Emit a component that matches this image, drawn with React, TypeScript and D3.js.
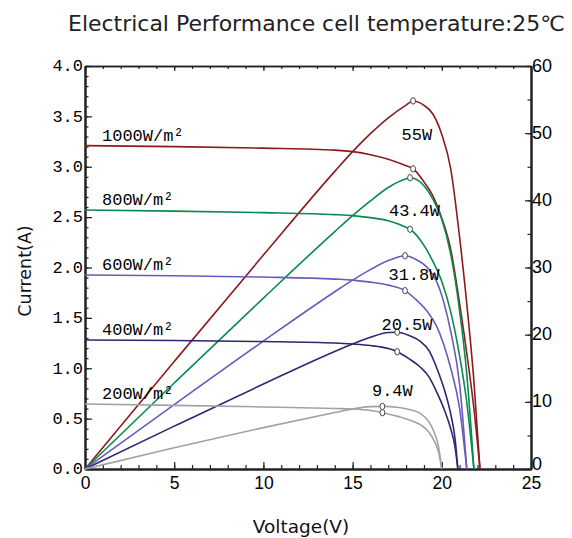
import React, { useRef, useEffect } from "react";
import * as d3 from "d3";

// irradiance levels and the max power figures printed next to each curve
const irradiance = ["1000W/m²", "800W/m²", "600W/m²", "400W/m²", "200W/m²"];
const maxPowerLabels = ["55W", "43.4W", "31.8W", "20.5W", "9.4W"];

// I-V and P-V samples (V, A, W)
const voltage1000 = [0, 5, 10, 14, 15, 16, 17, 18, 18.39, 19, 19.5, 20, 20.5, 21, 21.5, 21.8, 22.14];
const current1000 = [3.21, 3.2, 3.185, 3.165, 3.15, 3.12, 3.075, 3.01, 2.98, 2.85, 2.71, 2.49, 2.18, 1.64, 1.02, 0.6, 0];
const power1000 = [0, 16.0, 31.85, 44.31, 47.25, 49.92, 52.28, 54.18, 54.8, 54.15, 52.85, 49.8, 44.69, 34.44, 21.93, 13.08, 0];

const voltage800 = [0, 5, 10, 14, 15, 16, 17, 18, 18.22, 19, 19.5, 20, 20.5, 21, 21.4, 21.8];
const current800 = [2.57, 2.56, 2.545, 2.525, 2.515, 2.495, 2.465, 2.4, 2.38, 2.22, 2.06, 1.86, 1.56, 1.12, 0.66, 0];
const power800 = [0, 12.8, 25.45, 35.35, 37.73, 39.92, 41.91, 43.2, 43.36, 42.18, 40.17, 37.2, 31.98, 23.52, 14.12, 0];

const voltage600 = [0, 5, 10, 14, 15, 16, 17, 17.94, 18.5, 19.2, 19.7, 20.1, 20.5, 21, 21.4];
const current600 = [1.925, 1.918, 1.905, 1.885, 1.875, 1.855, 1.825, 1.77, 1.69, 1.56, 1.42, 1.24, 1.0, 0.6, 0];
const power600 = [0, 9.59, 19.05, 26.39, 28.13, 29.68, 31.03, 31.75, 31.27, 29.95, 27.97, 24.92, 20.5, 12.6, 0];

const voltage400 = [0, 5, 10, 14, 15, 16, 17, 17.5, 18.2, 18.8, 19.3, 19.75, 20.2, 20.5, 20.75, 20.9];
const current400 = [1.28, 1.275, 1.265, 1.25, 1.24, 1.225, 1.195, 1.164, 1.09, 1.01, 0.91, 0.75, 0.56, 0.4, 0.21, 0];
const power400 = [0, 6.38, 12.65, 17.5, 18.6, 19.6, 20.32, 20.37, 19.84, 18.99, 17.56, 14.81, 11.31, 8.2, 4.36, 0];

const voltage200 = [0, 5, 10, 14, 15, 16, 16.67, 17.6, 18.3, 18.8, 19.3, 19.6, 19.8, 20.0];
const current200 = [0.645, 0.632, 0.616, 0.6, 0.595, 0.58, 0.559, 0.52, 0.48, 0.44, 0.36, 0.27, 0.18, 0];
const power200 = [0, 3.16, 6.16, 8.4, 8.93, 9.28, 9.32, 9.15, 8.78, 8.27, 6.95, 5.29, 3.56, 0];

// maximum power points (marked with small circles)
const mppVoltage = [18.39, 18.22, 17.94, 17.5, 16.67];
const mppCurrent = [2.98, 2.38, 1.77, 1.164, 0.559];
const mppPower = [54.8, 43.36, 31.75, 20.37, 9.32];

// axis ticks
const voltageTicks = [0, 5, 10, 15, 20, 25];
const currentTicks = [0, 0.5, 1, 1.5, 2, 2.5, 3, 3.5, 4];
const powerTicks = [0, 10, 20, 30, 40, 50, 60];

const colors = ["#8a1c1f", "#0a8a4c", "#6a5bbd", "#2a2870", "#a2a2a2"];

const App: React.FC = () => {
  const chartRef = useRef<SVGSVGElement | null>(null);

  useEffect(() => {
    if (!chartRef.current) return;
    d3.select(chartRef.current).selectAll("*").remove();

    const width = 572;
    const height = 538;
    const left = 85;
    const right = 531;
    const top = 66;
    const bottom = 469;

    const svg = d3
      .select(chartRef.current)
      .attr("width", width)
      .attr("height", height);

    const x = d3.scaleLinear().domain([0, 25]).range([left, right]);
    const yI = d3.scaleLinear().domain([0, 4]).range([bottom, top]);
    const yP = d3.scaleLinear().domain([0, 60]).range([bottom, top]);

    const monoFont = "'Liberation Mono', monospace";
    const sansFont = "'Liberation Sans', Arial, sans-serif";

    const series = [
      { v: voltage1000, i: current1000, p: power1000 },
      { v: voltage800, i: current800, p: power800 },
      { v: voltage600, i: current600, p: power600 },
      { v: voltage400, i: current400, p: power400 },
      { v: voltage200, i: current200, p: power200 },
    ];

    // minor ticks
    const minorV = d3.range(0, 26, 1);
    const minorI = d3.range(0, 41, 1).map((d) => d / 10);
    const minorP = d3.range(0, 61, 5);

    const styleAxis = (g: any, font: string, size: number) => {
      g.attr("font-family", font).attr("font-size", size);
      g.selectAll("text").attr("fill", "#000");
      g.selectAll("line").attr("stroke", "#222").attr("stroke-width", 1.2);
      g.select(".domain").attr("stroke", "#222").attr("stroke-width", 2);
    };

    // bottom axis
    svg
      .append("g")
      .attr("transform", `translate(0,${bottom})`)
      .call(d3.axisBottom(x).tickValues(minorV).tickSize(-4).tickSizeOuter(0).tickFormat(() => ""))
      .call((g: any) => styleAxis(g, sansFont, 17.5));
    svg
      .append("g")
      .attr("transform", `translate(0,${bottom})`)
      .call(d3.axisBottom(x).tickValues(voltageTicks).tickSize(-7).tickSizeOuter(0).tickPadding(8).tickFormat(d3.format("d")))
      .call((g: any) => styleAxis(g, sansFont, 17.5))
      .call((g: any) => g.selectAll("text").attr("dy", "0.66em"));

    // top frame
    svg
      .append("g")
      .attr("transform", `translate(0,${top})`)
      .call(d3.axisTop(x).tickValues(minorV).tickSize(-3).tickSizeOuter(0).tickFormat(() => ""))
      .call((g: any) => styleAxis(g, sansFont, 17.5))
      .call((g: any) => g.select(".domain").attr("stroke-width", 1.5));
    svg
      .append("g")
      .attr("transform", `translate(0,${top})`)
      .call(d3.axisTop(x).tickValues(voltageTicks).tickSize(-5).tickSizeOuter(0).tickFormat(() => ""))
      .call((g: any) => styleAxis(g, sansFont, 17.5))
      .call((g: any) => g.select(".domain").attr("stroke-width", 1.5));

    // left axis (current)
    svg
      .append("g")
      .attr("transform", `translate(${left},0)`)
      .call(d3.axisLeft(yI).tickValues(minorI).tickSize(-3.5).tickSizeOuter(0).tickFormat(() => ""))
      .call((g: any) => styleAxis(g, monoFont, 17));
    svg
      .append("g")
      .attr("transform", `translate(${left},0)`)
      .call(d3.axisLeft(yI).tickValues(currentTicks).tickSize(-7).tickSizeOuter(0).tickPadding(2).tickFormat(d3.format(".1f")))
      .call((g: any) => styleAxis(g, monoFont, 17))
      .call((g: any) => g.selectAll("text").attr("dy", "0.28em"));

    // right axis (power)
    svg
      .append("g")
      .attr("transform", `translate(${right},0)`)
      .call(d3.axisRight(yP).tickValues(minorP).tickSize(-3.5).tickSizeOuter(0).tickFormat(() => ""))
      .call((g: any) => styleAxis(g, sansFont, 18));
    svg
      .append("g")
      .attr("transform", `translate(${right},0)`)
      .call(d3.axisRight(yP).tickValues(powerTicks).tickSize(-6).tickSizeOuter(0).tickPadding(1).tickFormat(d3.format("d")))
      .call((g: any) => styleAxis(g, sansFont, 18))
      .call((g: any) => g.selectAll("text").attr("dy", (d: number) => (d === 0 ? "0.05em" : "0.28em")));

    // curves: I-V and P-V for each irradiance
    const line = d3.line().curve(d3.curveMonotoneX);
    series.forEach((s, n) => {
      const ivPts: [number, number][] = s.v.map((v, k) => [x(v), yI(s.i[k])]);
      const pvPts: [number, number][] = s.v.map((v, k) => [x(v), yP(s.p[k])]);
      [ivPts, pvPts].forEach((pts) => {
        svg
          .append("path")
          .attr("d", line(pts))
          .attr("fill", "none")
          .attr("stroke", colors[n])
          .attr("stroke-width", 1.6);
      });
    });

    // maximum power point markers
    const markers = mppVoltage.flatMap((v, n) => [
      { cx: x(v), cy: yI(mppCurrent[n]) },
      { cx: x(v), cy: yP(mppPower[n]) },
    ]);
    svg
      .append("g")
      .selectAll("ellipse")
      .data(markers)
      .join("ellipse")
      .attr("cx", (d) => d.cx)
      .attr("cy", (d) => d.cy)
      .attr("rx", 2.4)
      .attr("ry", 3.2)
      .attr("fill", "#fff")
      .attr("stroke", "#333")
      .attr("stroke-width", 0.9);

    // irradiance labels, just above each short-circuit current
    svg
      .append("g")
      .selectAll("text")
      .data(irradiance)
      .join("text")
      .attr("x", x(0) + 17)
      .attr("y", (_, n) => yI(series[n].i[0]) - 5)
      .attr("font-family", monoFont)
      .attr("font-size", 17)
      .attr("fill", "#000")
      .text((d) => d);

    // max power labels (anchored in data units)
    const powerLabelAt: [number, number][] = [
      [18.6, 49.0],
      [18.47, 37.7],
      [18.44, 28.2],
      [18.05, 20.7],
      [17.23, 10.8],
    ];
    svg
      .append("g")
      .selectAll("text")
      .data(maxPowerLabels)
      .join("text")
      .attr("x", (_, n) => x(powerLabelAt[n][0]))
      .attr("y", (_, n) => yP(powerLabelAt[n][1]))
      .attr("text-anchor", "middle")
      .attr("font-family", monoFont)
      .attr("font-size", 17)
      .attr("fill", "#000")
      .text((d) => d);

    // title
    svg
      .append("text")
      .attr("x", 68)
      .attr("y", 31)
      .attr("font-family", "'DejaVu Sans', sans-serif")
      .attr("font-size", 21)
      .attr("textLength", 497)
      .attr("lengthAdjust", "spacingAndGlyphs")
      .attr("fill", "#222")
      .text("Electrical Performance cell temperature:25℃");

    // axis titles
    svg
      .append("text")
      .attr("x", (left + right) / 2 - 7)
      .attr("y", 533)
      .attr("text-anchor", "middle")
      .attr("font-family", "'DejaVu Sans', sans-serif")
      .attr("font-size", 18.5)
      .attr("fill", "#111")
      .text("Voltage(V)");

    svg
      .append("text")
      .attr("transform", `translate(31,271) rotate(-90)`)
      .attr("text-anchor", "middle")
      .attr("font-family", "'DejaVu Sans', sans-serif")
      .attr("font-size", 17.5)
      .attr("fill", "#111")
      .text("Current(A)");
  }, []);

  return (
    <svg
      ref={chartRef}
      style={{ position: "absolute", left: 0, top: 0, background: "#fff" }}
    ></svg>
  );
};

export default App;
